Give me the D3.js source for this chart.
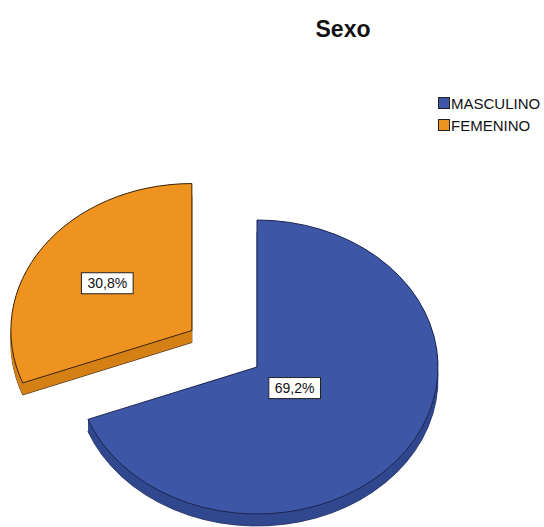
<!DOCTYPE html>
<html>
<head>
<meta charset="utf-8">
<script src="https://cdn.jsdelivr.net/npm/d3@7"></script>
<style>
  html, body { margin: 0; padding: 0; background: #fff; overflow: hidden; }
  svg { display: block; }
</style>
</head>
<body>
<svg id="chart" width="544" height="527"></svg>
<script>
// ---- data ----
const title = "Sexo";
const categories = ["MASCULINO", "FEMENINO"];
const values = [69.2, 30.8];
const valueLabels = ["69,2%", "30,8%"];
const exploded = [false, true];

// ---- styles ----
const topColors = ["#3E56A6", "#EE9220"];
const sideColors = ["#32498F", "#D48016"];
const edgeColors = ["#1B2550", "#3A2408"];

const W = 544, H = 527;
const svg = d3.select("#chart");

// geometry
const cx = 257, cy = 367;
const rx = 181, ry = 147;
const k = ry / rx;
const depth = 12;
const explodeFrac = 0.437;

const pie = d3.pie().sort(null).value(d => d.value).startAngle(0).endAngle(2 * Math.PI);
const data = categories.map((c, i) => ({ cat: c, value: values[i], label: valueLabels[i], i }));
const arcs = pie(data);
const arc = d3.arc().innerRadius(0).outerRadius(rx);

const xScale = d3.scaleLinear().domain([-1, 1]).range([-rx, rx]);
const yScale = d3.scaleLinear().domain([-1, 1]).range([-ry, ry]);

function offsetOf(a) {
  if (!exploded[a.data.i]) return [0, 0];
  const m = (a.startAngle + a.endAngle) / 2;
  return [xScale(Math.sin(m) * explodeFrac), yScale(-Math.cos(m) * explodeFrac)];
}

const pieG = svg.append("g");

// draw order: exploded (behind) first
const order = arcs.slice().sort((a, b) => (exploded[b.data.i] ? 1 : 0) - (exploded[a.data.i] ? 1 : 0));

order.forEach(a => {
  const [ox, oy] = offsetOf(a);
  const g = pieG.append("g");
  // side (extrusion) layers
  for (let d = depth; d >= 0.5; d -= 0.5) {
    g.append("path")
      .attr("d", arc(a))
      .attr("transform", `translate(${cx + ox},${cy + oy + d}) scale(1,${k})`)
      .attr("fill", sideColors[a.data.i])
      .attr("stroke", d === depth ? edgeColors[a.data.i] : "none")
      .attr("stroke-width", 0.8)
      .attr("vector-effect", "non-scaling-stroke");
  }
  // top face
  g.append("path")
    .attr("d", arc(a))
    .attr("transform", `translate(${cx + ox},${cy + oy}) scale(1,${k})`)
    .attr("fill", topColors[a.data.i])
    .attr("stroke", edgeColors[a.data.i])
    .attr("stroke-width", 1)
    .attr("vector-effect", "non-scaling-stroke");
});

// labels at sector area centroids
arcs.forEach(a => {
  const [ox, oy] = offsetOf(a);
  const alpha = (a.endAngle - a.startAngle) / 2;
  const m = (a.startAngle + a.endAngle) / 2;
  const dist = (2 / 3) * Math.sin(alpha) / alpha;
  const lx = cx + ox + xScale(Math.sin(m) * dist);
  const ly = cy + oy + yScale(-Math.cos(m) * dist);
  const lg = svg.append("g").attr("transform", `translate(${lx},${ly})`);
  const t = lg.append("text")
    .attr("text-anchor", "middle")
    .attr("dy", "0.36em")
    .attr("font-family", "Liberation Sans, Arial, sans-serif")
    .attr("font-size", 14)
    .attr("fill", "#111")
    .text(a.data.label);
  const bb = t.node().getBBox();
  lg.insert("rect", "text")
    .attr("x", bb.x - 6)
    .attr("y", -10.5)
    .attr("width", bb.width + 12)
    .attr("height", 21)
    .attr("fill", "#fff")
    .attr("stroke", "#222")
    .attr("stroke-width", 1);
});

// title
svg.append("text")
  .attr("x", 343)
  .attr("y", 37)
  .attr("text-anchor", "middle")
  .attr("font-family", "Liberation Sans, Arial, sans-serif")
  .attr("font-weight", "bold")
  .attr("font-size", 23)
  .attr("fill", "#111")
  .text(title);

// legend
const legend = svg.append("g").attr("transform", "translate(438,97)");
categories.forEach((c, i) => {
  const row = legend.append("g").attr("transform", `translate(0,${i * 22})`);
  row.append("rect")
    .attr("x", 0.5).attr("y", 0.5)
    .attr("width", 11).attr("height", 11)
    .attr("fill", topColors[i])
    .attr("stroke", "#222")
    .attr("stroke-width", 1);
  row.append("text")
    .attr("x", 13)
    .attr("y", 11.5)
    .attr("font-family", "Liberation Sans, Arial, sans-serif")
    .attr("font-size", 15)
    .attr("fill", "#111")
    .text(c);
});
</script>
</body>
</html>
